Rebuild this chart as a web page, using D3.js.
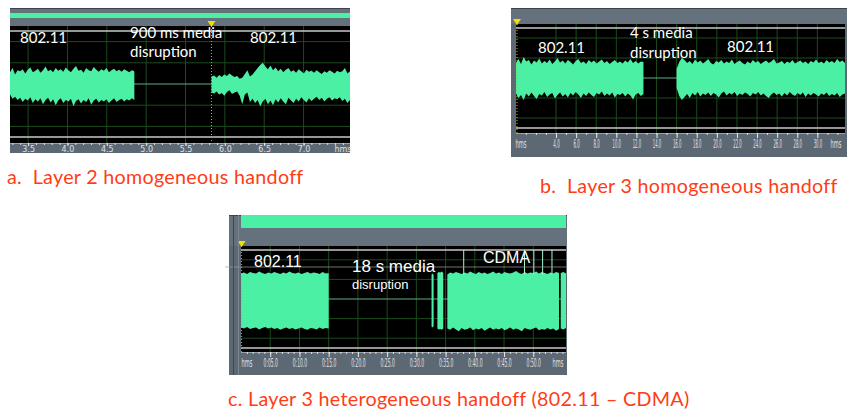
<!DOCTYPE html>
<html>
<head>
<meta charset="utf-8">
<script src="https://cdn.jsdelivr.net/npm/d3@7"></script>
<style>
  body { margin: 0; background: #fff; }
  svg { display: block; }
  text { white-space: pre; }
</style>
</head>
<body>
<div id="chart"></div>
<script>
// ---- data ----
// captions
const captions = [
  'a.  Layer 2 homogeneous handoff',
  'b.  Layer 3 homogeneous handoff',
  'c. Layer 3 heterogeneous handoff (802.11 \u2013 CDMA)'
];

// in-plot annotations
const labelsA = ['802.11', '900 ms media', 'disruption', '802.11'];
const labelsB = ['802.11', '4 s media', 'disruption', '802.11'];
const labelsC = ['802.11', '18 s media', 'disruption', 'CDMA'];

// tick values (seconds)
const ticksA = [3.5, 4.0, 4.5, 5.0, 5.5, 6.0, 6.5, 7.0];
const ticksB = [4, 6, 8, 10, 12, 14, 16, 18, 20, 22, 24, 26, 28, 30];
const ticksC = [5, 10, 15, 20, 25, 30, 35, 40, 45, 50];

// audio segments: [start s, end s]
const segA1 = [3.27, 4.85];
const segA2 = [5.83, 7.59];
const segB1 = [0.0, 12.7];
const segB2 = [16.0, 32.75];
const segC1 = [0.0, 15.0];
const segC2 = [32.6, 32.95];
const segC3 = [33.6, 34.6];
const segC4 = [35.3, 54.4];
const segC5 = [54.7, 55.6];

// envelopes (normalized amplitude, +1 = top white line)
const envA1Top = [0.22,0.30,0.18,0.26,0.24,0.28,0.20,0.27,0.31,0.22,0.25,0.29,0.21,0.26,0.33,0.24,0.27,0.22,0.30,0.25,0.28,0.23,0.31,0.26,0.22,0.29,0.34,0.25,0.27,0.21,0.30,0.26,0.24,0.32,0.27,0.23,0.28,0.25,0.30,0.22,0.26,0.29,0.24,0.27,0.23,0.28,0.25,0.22,0.26,0.24];
const envA1Bot = [-0.20,-0.28,-0.24,-0.30,-0.26,-0.34,-0.28,-0.31,-0.25,-0.36,-0.29,-0.33,-0.27,-0.38,-0.30,-0.26,-0.35,-0.29,-0.40,-0.31,-0.27,-0.36,-0.30,-0.33,-0.28,-0.42,-0.32,-0.29,-0.37,-0.30,-0.34,-0.27,-0.39,-0.31,-0.28,-0.35,-0.30,-0.33,-0.29,-0.36,-0.31,-0.27,-0.34,-0.30,-0.28,-0.33,-0.29,-0.31,-0.27,-0.30];
const envA2Top = [0.14,0.16,0.12,0.17,0.13,0.18,0.15,0.20,0.16,0.13,0.15,0.10,0.12,0.19,0.26,0.14,0.18,0.24,0.30,0.36,0.40,0.33,0.28,0.35,0.26,0.31,0.24,0.29,0.22,0.27,0.30,0.23,0.26,0.21,0.28,0.24,0.20,0.27,0.23,0.25,0.21,0.26,0.22,0.19,0.24,0.21,0.26,0.23,0.20,0.25,0.22,0.24,0.30,0.20,0.24];
const envA2Bot = [-0.16,-0.18,-0.14,-0.20,-0.17,-0.22,-0.15,-0.12,-0.19,-0.16,-0.14,-0.22,-0.38,-0.20,-0.16,-0.34,-0.28,-0.36,-0.30,-0.42,-0.33,-0.28,-0.38,-0.31,-0.40,-0.29,-0.35,-0.27,-0.33,-0.38,-0.26,-0.31,-0.36,-0.28,-0.33,-0.25,-0.30,-0.35,-0.27,-0.32,-0.28,-0.24,-0.30,-0.26,-0.33,-0.28,-0.25,-0.31,-0.27,-0.29,-0.25,-0.32,-0.28,-0.36,-0.30];
const envB1Top = [0.30,0.38,0.28,0.42,0.33,0.36,0.27,0.35,0.31,0.39,0.29,0.34,0.30,0.37,0.28,0.33,0.40,0.31,0.35,0.29,0.36,0.32,0.27,0.34,0.38,0.30,0.33,0.28,0.36,0.31,0.35,0.29,0.33,0.37,0.30,0.34,0.28,0.32,0.36,0.30,0.33,0.29,0.35,0.31,0.38,0.30,0.34,0.29,0.33,0.32];
const envB1Bot = [-0.30,-0.40,-0.34,-0.44,-0.31,-0.37,-0.29,-0.36,-0.42,-0.32,-0.35,-0.28,-0.38,-0.33,-0.30,-0.41,-0.34,-0.29,-0.37,-0.32,-0.39,-0.30,-0.35,-0.28,-0.33,-0.40,-0.31,-0.36,-0.29,-0.34,-0.38,-0.30,-0.33,-0.27,-0.36,-0.31,-0.35,-0.29,-0.39,-0.32,-0.34,-0.30,-0.37,-0.31,-0.35,-0.43,-0.33,-0.30,-0.36,-0.32];
const envB2Top = [0.18,0.32,0.40,0.36,0.30,0.34,0.28,0.37,0.31,0.35,0.29,0.33,0.38,0.30,0.27,0.34,0.31,0.36,0.29,0.33,0.30,0.37,0.28,0.32,0.35,0.30,0.27,0.33,0.29,0.36,0.31,0.34,0.28,0.32,0.35,0.30,0.33,0.38,0.29,0.31,0.34,0.28,0.33,0.30,0.36,0.29,0.32,0.35,0.30,0.33,0.28,0.34,0.31,0.37,0.30,0.33,0.29,0.36,0.31,0.34,0.30,0.38,0.32,0.35,0.30];
const envB2Bot = [-0.20,-0.36,-0.44,-0.38,-0.32,-0.40,-0.30,-0.35,-0.28,-0.37,-0.31,-0.34,-0.29,-0.36,-0.30,-0.33,-0.39,-0.31,-0.27,-0.35,-0.30,-0.33,-0.28,-0.36,-0.31,-0.34,-0.29,-0.32,-0.37,-0.30,-0.33,-0.28,-0.35,-0.31,-0.36,-0.40,-0.33,-0.29,-0.34,-0.31,-0.37,-0.30,-0.35,-0.28,-0.33,-0.36,-0.30,-0.34,-0.29,-0.38,-0.31,-0.35,-0.30,-0.33,-0.37,-0.31,-0.34,-0.29,-0.36,-0.32,-0.35,-0.30,-0.38,-0.33,-0.31];
const envC1Top = [0.52,0.54,0.51,0.55,0.53,0.52,0.56,0.53,0.51,0.54,0.52,0.55,0.53,0.51,0.54,0.52,0.56,0.53,0.52,0.54,0.51,0.53,0.55,0.52,0.54,0.53,0.51,0.55,0.52,0.53];
const envC1Bot = [-0.58,-0.60,-0.57,-0.61,-0.59,-0.58,-0.62,-0.59,-0.57,-0.60,-0.58,-0.61,-0.59,-0.63,-0.60,-0.58,-0.61,-0.59,-0.62,-0.60,-0.58,-0.61,-0.63,-0.59,-0.60,-0.62,-0.58,-0.61,-0.59,-0.60];
const envC2Top = [0.50, 0.52, 0.49];
const envC2Bot = [-0.56, -0.58, -0.55];
const envC3Top = [0.53, 0.55, 0.54, 0.56, 0.53];
const envC3Bot = [-0.60, -0.62, -0.61, -0.63, -0.60];
const envC4Top = [0.50,0.54,0.52,0.55,0.53,0.51,0.54,0.52,0.56,0.53,0.51,0.55,0.52,0.54,0.51,0.53,0.56,0.52,0.54,0.51,0.55,0.53,0.52,0.54,0.57,0.53,0.51,0.55,0.52,0.54,0.53,0.56,0.52,0.55,0.53,0.51,0.54,0.52,0.55,0.53];
const envC4Bot = [-0.60,-0.63,-0.58,-0.62,-0.66,-0.59,-0.63,-0.61,-0.58,-0.64,-0.60,-0.62,-0.59,-0.65,-0.61,-0.58,-0.63,-0.60,-0.62,-0.59,-0.64,-0.61,-0.58,-0.63,-0.60,-0.62,-0.66,-0.59,-0.61,-0.63,-0.60,-0.58,-0.64,-0.61,-0.63,-0.59,-0.62,-0.60,-0.65,-0.61];
const envC5Top = [0.53, 0.55, 0.52];
const envC5Bot = [-0.60, -0.62, -0.59];
// CDMA clipping spikes (s)
const spikesC = [38.1, 48.5, 50.1, 51.6, 53.2];

// ---- drawing ----
const W = 848, H = 415;
const WAVE = '#4cf0a4';
const svg = d3.select('#chart').append('svg').attr('width', W).attr('height', H);
svg.append('rect').attr('width', W).attr('height', H).attr('fill', '#fff');

// squeeze a text horizontally to a target width (narrow bitmap-ish ruler font)
function squeeze(sel, perChar) {
  sel.each(function () {
    const nat = this.getComputedTextLength();
    const want = perChar * this.textContent.length;
    const t = d3.select(this);
    const xx = +t.attr('x') || 0;
    t.attr('transform', `translate(${xx},0) scale(${want / nat},1) translate(${-xx},0)`);
  });
}

function drawPanel(p) {
  const g = svg.append('g');
  const x = d3.scaleLinear().domain(p.domain).range([p.plotX0, p.plotX1]);
  const y = d3.scaleLinear().domain([-1, 1]).range([p.whiteBot, p.whiteTop]);

  // outer frame
  g.append('rect').attr('x', p.frameX0).attr('y', p.frameY0)
    .attr('width', p.frameX1 - p.frameX0).attr('height', p.axisY1 - p.frameY0)
    .attr('fill', '#5d6875');
  // top strip
  g.append('rect').attr('x', p.frameX0).attr('y', p.frameY0)
    .attr('width', p.frameX1 - p.frameX0).attr('height', p.plotY0 - p.frameY0)
    .attr('fill', '#66717e');
  g.append('line').attr('x1', p.frameX0).attr('x2', p.frameX1)
    .attr('y1', p.frameY0 + 0.5).attr('y2', p.frameY0 + 0.5).attr('stroke', '#3b434c');
  if (p.bar) {
    g.append('rect').attr('x', p.bar[0]).attr('y', p.bar[2])
      .attr('width', p.bar[1] - p.bar[0]).attr('height', p.bar[3] - p.bar[2])
      .attr('fill', WAVE);
  }

  // black plot area
  g.append('rect').attr('x', p.plotX0).attr('y', p.plotY0)
    .attr('width', p.plotX1 - p.plotX0).attr('height', p.plotY1 - p.plotY0)
    .attr('fill', '#000');

  const clipId = 'clip' + p.id;
  g.append('clipPath').attr('id', clipId).append('rect')
    .attr('x', p.plotX0).attr('y', p.plotY0)
    .attr('width', p.plotX1 - p.plotX0).attr('height', p.plotY1 - p.plotY0);
  const plot = g.append('g').attr('clip-path', `url(#${clipId})`);

  // grid
  plot.selectAll('.vg').data(p.ticks).enter().append('line')
    .attr('x1', d => x(d)).attr('x2', d => x(d))
    .attr('y1', p.plotY0).attr('y2', p.plotY1)
    .attr('stroke', '#1c4a1c').attr('stroke-width', 1);
  plot.selectAll('.hg').data([0.8, 0.4, -0.4, -0.8]).enter().append('line')
    .attr('x1', p.plotX0).attr('x2', p.plotX1)
    .attr('y1', d => y(d)).attr('y2', d => y(d))
    .attr('stroke', '#1c4a1c').attr('stroke-width', 1);

  // white limit lines
  [1, -1].forEach(v => {
    plot.append('line').attr('x1', p.plotX0).attr('x2', p.plotX1)
      .attr('y1', y(v)).attr('y2', y(v))
      .attr('stroke', '#c8c8c8').attr('stroke-width', 1.5);
  });

  // centre line
  plot.append('line').attr('x1', p.plotX0).attr('x2', p.plotX1)
    .attr('y1', y(0)).attr('y2', y(0))
    .attr('stroke', '#5fae84').attr('stroke-width', 1.2);

  // waveform segments
  const area = d3.area().x(d => x(d.t)).y0(d => y(d.lo)).y1(d => y(d.hi));
  p.segments.forEach(s => {
    const n = s.top.length;
    const pts = s.top.map((v, i) => ({
      t: s.range[0] + (s.range[1] - s.range[0]) * i / (n - 1),
      hi: v, lo: s.bot[i]
    }));
    plot.append('path').datum(pts).attr('d', area).attr('fill', WAVE);
  });

  if (p.spikes) {
    plot.selectAll('.sp').data(p.spikes).enter().append('line')
      .attr('x1', d => x(d)).attr('x2', d => x(d))
      .attr('y1', y(1)).attr('y2', y(0.5))
      .attr('stroke', '#a8f5d0').attr('stroke-width', 1);
  }

  // marker line + triangle
  if (p.marker != null) {
    g.append('line').attr('x1', x(p.marker)).attr('x2', x(p.marker))
      .attr('y1', p.plotY0).attr('y2', p.axisY1)
      .attr('stroke', '#c8b400').attr('stroke-dasharray', '1,2');
    const mx = x(p.marker);
    g.append('path')
      .attr('d', `M${mx - 4},${p.plotY0 - 5}L${mx + 4},${p.plotY0 - 5}L${mx},${p.plotY0 + 1}Z`)
      .attr('fill', '#f0e000');
  }

  // axis strip
  g.append('rect').attr('x', p.frameX0).attr('y', p.plotY1)
    .attr('width', p.frameX1 - p.frameX0).attr('height', p.axisY1 - p.plotY1)
    .attr('fill', '#5d6875');
  g.append('line').attr('x1', p.plotX0).attr('x2', p.plotX1)
    .attr('y1', p.plotY1 + 0.5).attr('y2', p.plotY1 + 0.5).attr('stroke', '#9aa3ac');

  const minor = d3.axisBottom(x).tickValues(p.minor).tickSize(2).tickFormat('');
  g.append('g').attr('transform', `translate(0,${p.plotY1})`).call(minor)
    .call(a => a.select('.domain').remove())
    .call(a => a.selectAll('line').attr('stroke', '#e0e0e0'));

  const major = d3.axisBottom(x).tickValues(p.ticks).tickSize(p.majorLen).tickPadding(1)
    .tickFormat(p.fmt);
  const ax = g.append('g').attr('transform', `translate(0,${p.plotY1})`).call(major)
    .call(a => a.select('.domain').remove())
    .call(a => a.selectAll('line').attr('stroke', '#e8e8e8'));
  const tl = ax.selectAll('text')
    .attr('fill', '#e0e0e0').attr('font-size', p.tickFont)
    .attr('font-family', '"DejaVu Sans", sans-serif')
    .attr('dominant-baseline', 'middle')
    .attr('y', p.labelDy).attr('dy', 0);
  if (p.charW) squeeze(tl, p.charW);

  p.hms.forEach(hx => {
    const t = g.append('text').attr('x', hx).attr('y', p.plotY1 + p.labelDy)
      .attr('text-anchor', 'middle').attr('dominant-baseline', 'middle')
      .attr('fill', '#e0e0e0').attr('font-size', p.tickFont)
      .attr('font-family', '"DejaVu Sans", sans-serif').text('hms');
    if (p.charW) squeeze(t, 3.6);
  });

  if (p.stripe) {
    g.append('line').attr('x1', p.stripe[0]).attr('x2', p.stripe[1])
      .attr('y1', p.stripe[2]).attr('y2', p.stripe[2])
      .attr('stroke', '#a0a0a0').attr('stroke-opacity', 0.7);
  }

  // annotations
  p.labels.forEach((txt, i) => {
    const l = p.labelPos[i];
    g.append('text').attr('x', l[0]).attr('y', l[1])
      .attr('font-size', l[2]).attr('font-family', p.labelFont)
      .attr('fill', '#fff').text(txt);
  });

  // caption
  g.append('text').attr('x', p.caption[0]).attr('y', p.caption[1])
    .attr('font-size', p.caption[2]).attr('font-family', 'Lato, "Open Sans", sans-serif')
    .attr('letter-spacing', 0.3)
    .attr('fill', '#ff3c14').text(captions[p.id]);
}

const range = (a, b, s) => d3.range(a, b + s / 2, s);

drawPanel({
  id: 0, domain: [3.27, 7.59],
  frameX0: 10, frameX1: 350, frameY0: 8, plotX0: 10, plotX1: 350,
  plotY0: 26, plotY1: 143, axisY1: 153, whiteTop: 31, whiteBot: 137,
  bar: [10, 350, 13, 18],
  ticks: ticksA, minor: range(3.3, 7.5, 0.1), majorLen: 3, labelDy: 6,
  fmt: d3.format('.1f'), tickFont: 8, hms: [343], charW: null,
  marker: 5.83,
  segments: [
    { range: segA1, top: envA1Top, bot: envA1Bot },
    { range: segA2, top: envA2Top, bot: envA2Bot }
  ],
  labels: labelsA, labelFont: 'Lato, "Open Sans", sans-serif',
  labelPos: [[20, 43, 15], [130, 38, 15], [130, 57, 15], [250, 43, 15]],
  caption: [7, 184, 19.7]
});

drawPanel({
  id: 1, domain: [0.02, 32.75],
  frameX0: 511, frameX1: 847, frameY0: 8, plotX0: 516, plotX1: 845,
  plotY0: 24, plotY1: 133, axisY1: 157, whiteTop: 28, whiteBot: 128,
  ticks: ticksB, minor: range(1, 32, 1), majorLen: 5, labelDy: 12,
  fmt: d3.format('.1f'), tickFont: 11.5, hms: [521, 836], charW: 2.1,
  marker: 0.12,
  segments: [
    { range: segB1, top: envB1Top, bot: envB1Bot },
    { range: segB2, top: envB2Top, bot: envB2Bot }
  ],
  labels: labelsB, labelFont: 'Lato, "Open Sans", sans-serif',
  labelPos: [[538, 53, 15], [630, 38, 15], [630, 58, 15], [727, 52, 15]],
  caption: [540, 193, 19.7]
});

drawPanel({
  id: 2, domain: [0, 55.6],
  frameX0: 229, frameX1: 567, frameY0: 215, plotX0: 241, plotX1: 566,
  plotY0: 246, plotY1: 352, axisY1: 375, whiteTop: 250, whiteBot: 348,
  bar: [241, 566, 215, 228],
  ticks: ticksC, minor: range(1, 55, 1), majorLen: 5, labelDy: 12,
  fmt: d => '0:' + d3.format('04.1f')(d), tickFont: 11.5, hms: [247, 558], charW: 2.4,
  marker: 0.1,
  stripe: [225, 566, 267],
  segments: [
    { range: segC1, top: envC1Top, bot: envC1Bot },
    { range: segC2, top: envC2Top, bot: envC2Bot },
    { range: segC3, top: envC3Top, bot: envC3Bot },
    { range: segC4, top: envC4Top, bot: envC4Bot },
    { range: segC5, top: envC5Top, bot: envC5Bot }
  ],
  spikes: spikesC,
  labels: labelsC, labelFont: '"Liberation Sans", Arial, sans-serif',
  labelPos: [[254, 267, 16], [352, 272, 17], [352, 289, 13], [483, 263, 16]],
  caption: [228, 406, 19.7]
});

// left frame detail for panel c
svg.append('line').attr('x1', 233.5).attr('x2', 233.5).attr('y1', 215).attr('y2', 375)
  .attr('stroke', '#3e4650');
svg.append('line').attr('x1', 238.5).attr('x2', 238.5).attr('y1', 215).attr('y2', 375)
  .attr('stroke', '#7d8792');
</script>
</body>
</html>
